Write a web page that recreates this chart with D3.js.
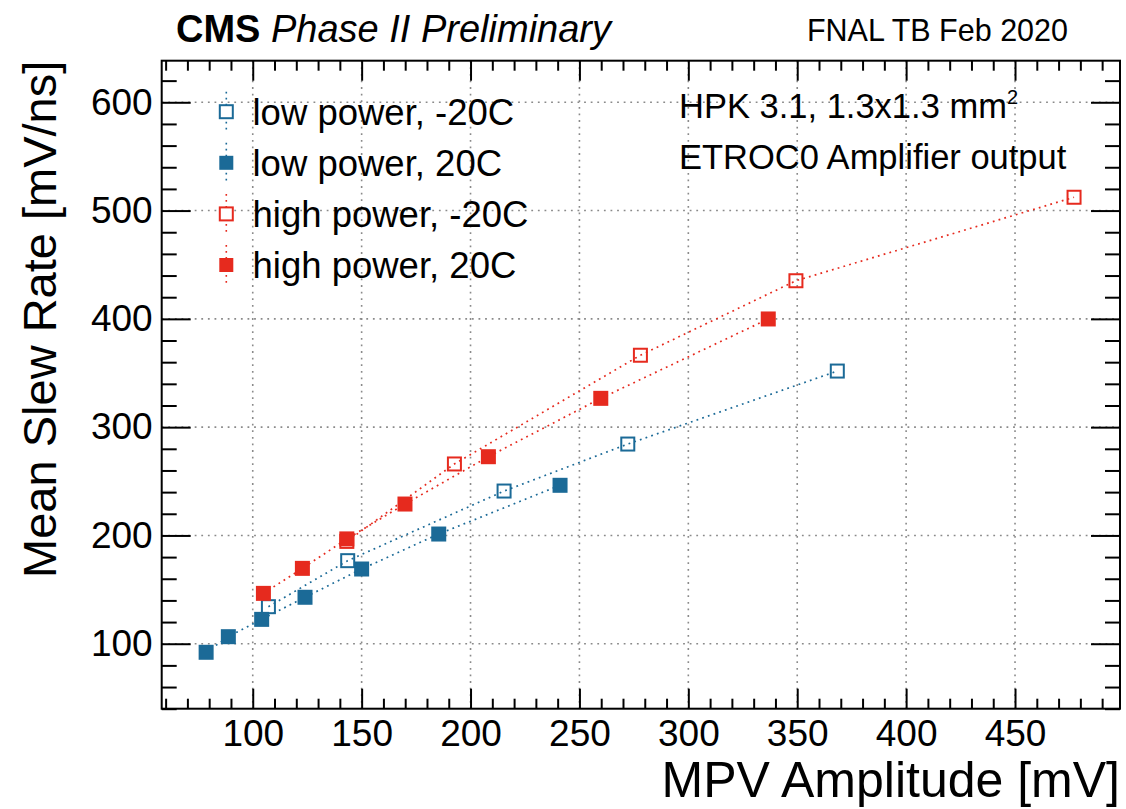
<!DOCTYPE html>
<html>
<head>
<meta charset="utf-8">
<script src="https://cdn.jsdelivr.net/npm/d3@7"></script>
<style>
  html, body { margin: 0; padding: 0; background: #fff; }
  svg { display: block; font-family: "Liberation Sans", Arial, Helvetica, sans-serif; }
</style>
</head>
<body>
<svg id="chart" width="1126" height="809"></svg>
<script>
// ---- data ----
const lowColdX  = [107.2, 143.6, 215.4, 272.2, 368.4];
const lowColdY  = [134.2, 176.7, 241.0, 284.4, 351.8];
const lowWarmX  = [78.6, 88.8, 104.1, 124.0, 150.0, 185.4, 241.1];
const lowWarmY  = [92.1, 106.5, 122.5, 142.9, 169.0, 201.3, 246.3];
const highColdX = [143.2, 192.6, 278.0, 349.4, 477.1];
const highColdY = [194.5, 266.0, 366.4, 435.2, 512.3];
const highWarmX = [104.9, 122.8, 143.2, 169.9, 208.2, 259.8, 336.7];
const highWarmY = [146.5, 169.6, 196.8, 229.0, 272.7, 326.6, 399.9];

const seriesNames = ["low power, -20C", "low power, 20C", "high power, -20C", "high power, 20C"];
const xTickValues = [100, 150, 200, 250, 300, 350, 400, 450];
const yTickValues = [100, 200, 300, 400, 500, 600];
const xDomain = [58.2, 498.2];
const yDomain = [40, 638.4];

const BLUE = "#1b6a97";
const RED = "#e62a1e";

const series = [
  { name: seriesNames[0], xs: lowColdX,  ys: lowColdY,  color: BLUE, open: true },
  { name: seriesNames[1], xs: lowWarmX,  ys: lowWarmY,  color: BLUE, open: false },
  { name: seriesNames[2], xs: highColdX, ys: highColdY, color: RED,  open: true },
  { name: seriesNames[3], xs: highWarmX, ys: highWarmY, color: RED,  open: false }
];

// ---- layout ----
const L = 161.7, R = 1120, T = 60.7, B = 708.7;
const svg = d3.select("#chart");
const x = d3.scaleLinear().domain(xDomain).range([L, R]);
const y = d3.scaleLinear().domain(yDomain).range([B, T]);

// grid
const grid = svg.append("g");
grid.selectAll("line.gx").data(xTickValues).enter().append("line")
  .attr("x1", d => x(d)).attr("x2", d => x(d)).attr("y1", T).attr("y2", B)
  .attr("stroke", "#8a8a8a").attr("stroke-width", 1.6).attr("stroke-dasharray", "1.8,4.8");
grid.selectAll("line.gy").data(yTickValues).enter().append("line")
  .attr("y1", d => y(d)).attr("y2", d => y(d)).attr("x1", L).attr("x2", R)
  .attr("stroke", "#8a8a8a").attr("stroke-width", 1.6).attr("stroke-dasharray", "1.8,4.8");

// axes (ticks on all sides)
const xMinor = d3.range(60, 500, 10).filter(v => v % 50 !== 0);
const yMinor = d3.range(40, 640, 20).filter(v => v % 100 !== 0);

function styleAxis(g) {
  g.select(".domain").remove();
  g.selectAll(".tick line").attr("stroke", "#000").attr("stroke-width", 2);
}

// bottom
svg.append("g").attr("transform", `translate(0,${B})`)
  .call(d3.axisBottom(x).tickValues(xMinor).tickSize(-10).tickFormat(""))
  .call(styleAxis);
const xAx = svg.append("g").attr("transform", `translate(0,${B})`)
  .call(d3.axisBottom(x).tickValues(xTickValues).tickSize(-20).tickPadding(11).tickFormat(d3.format("d")))
  .call(styleAxis);
xAx.selectAll(".tick text").attr("font-size", 37).attr("fill", "#000").attr("dy", "0.71em");
// top
svg.append("g").attr("transform", `translate(0,${T})`)
  .call(d3.axisTop(x).tickValues(xMinor).tickSize(-10).tickFormat(""))
  .call(styleAxis);
svg.append("g").attr("transform", `translate(0,${T})`)
  .call(d3.axisTop(x).tickValues(xTickValues).tickSize(-20).tickFormat(""))
  .call(styleAxis);
// left
svg.append("g").attr("transform", `translate(${L},0)`)
  .call(d3.axisLeft(y).tickValues(yMinor).tickSize(-15).tickFormat(""))
  .call(styleAxis);
const yAx = svg.append("g").attr("transform", `translate(${L},0)`)
  .call(d3.axisLeft(y).tickValues(yTickValues).tickSize(-29).tickPadding(9).tickFormat(d3.format("d")))
  .call(styleAxis);
yAx.selectAll(".tick text").attr("font-size", 37).attr("fill", "#000");
// right
svg.append("g").attr("transform", `translate(${R},0)`)
  .call(d3.axisRight(y).tickValues(yMinor).tickSize(-15).tickFormat(""))
  .call(styleAxis);
svg.append("g").attr("transform", `translate(${R},0)`)
  .call(d3.axisRight(y).tickValues(yTickValues).tickSize(-29).tickFormat(""))
  .call(styleAxis);

// frame
svg.append("rect").attr("x", L).attr("y", T).attr("width", R - L).attr("height", B - T)
  .attr("fill", "none").attr("stroke", "#000").attr("stroke-width", 2);

// lines
const lineGen = d3.line().x(d => x(d[0])).y(d => y(d[1]));
series.forEach(s => {
  const pts = s.xs.map((v, i) => [v, s.ys[i]]);
  svg.append("path").attr("d", lineGen(pts)).attr("fill", "none")
    .attr("stroke", s.color).attr("stroke-width", 1.7).attr("stroke-dasharray", "1.8,4.2");
});

// markers
const MS = 15;
function drawMarker(g, cx, cy, s, size) {
  if (s.open) {
    g.append("rect").attr("x", cx - size / 2 + 1).attr("y", cy - size / 2 + 1)
      .attr("width", size - 2).attr("height", size - 2)
      .attr("fill", "none").attr("stroke", s.color).attr("stroke-width", 2);
  } else {
    g.append("rect").attr("x", cx - size / 2).attr("y", cy - size / 2)
      .attr("width", size).attr("height", size).attr("fill", s.color);
  }
}
series.forEach(s => {
  const g = svg.append("g");
  s.xs.forEach((v, i) => drawMarker(g, x(v), y(s.ys[i]), s, MS));
});

// legend
const legX = 226.3, legY0 = 111.7, legDY = 51.1;
series.forEach((s, i) => {
  const cy = legY0 + i * legDY;
  const g = svg.append("g");
  g.append("line").attr("x1", legX).attr("x2", legX).attr("y1", cy - 20).attr("y2", cy + 20)
    .attr("stroke", s.color).attr("stroke-width", 1.6).attr("stroke-dasharray", "1.8,4.2");
  if (s.open) {
    g.append("rect").attr("x", legX - 6.5).attr("y", cy - 6.5).attr("width", 13).attr("height", 13)
      .attr("fill", "#fff").attr("stroke", s.color).attr("stroke-width", 2);
  } else {
    g.append("rect").attr("x", legX - 7).attr("y", cy - 7).attr("width", 14).attr("height", 14)
      .attr("fill", s.color);
  }
  g.append("text").attr("x", 252.5).attr("y", cy).attr("dy", "0.36em")
    .attr("font-size", 36.5).attr("fill", "#000").text(s.name);
});

// annotations
svg.append("text").attr("x", 679).attr("y", 118).attr("font-size", 34.5).attr("fill", "#000")
  .text("HPK 3.1, 1.3x1.3 mm")
  .append("tspan").attr("font-size", 20).attr("dy", -14).text("2");
svg.append("text").attr("x", 679).attr("y", 169).attr("font-size", 34.5).attr("fill", "#000")
  .text("ETROC0 Amplifier output");

// header
const hdr = svg.append("text").attr("x", 176).attr("y", 42).attr("font-size", 38).attr("fill", "#000");
hdr.append("tspan").attr("font-weight", "bold").text("CMS");
hdr.append("tspan").attr("font-style", "italic").text(" Phase II Preliminary");
svg.append("text").attr("x", 1068).attr("y", 41).attr("text-anchor", "end")
  .attr("font-size", 30.5).attr("fill", "#000").text("FNAL TB Feb 2020");

// axis titles
svg.append("text").attr("x", R).attr("y", 797).attr("text-anchor", "end")
  .attr("font-size", 50).attr("fill", "#000").text("MPV Amplitude [mV]");
svg.append("text").attr("transform", `translate(56,${T}) rotate(-90)`).attr("text-anchor", "end")
  .attr("font-size", 47).attr("fill", "#000").text("Mean Slew Rate [mV/ns]");
</script>
</body>
</html>
